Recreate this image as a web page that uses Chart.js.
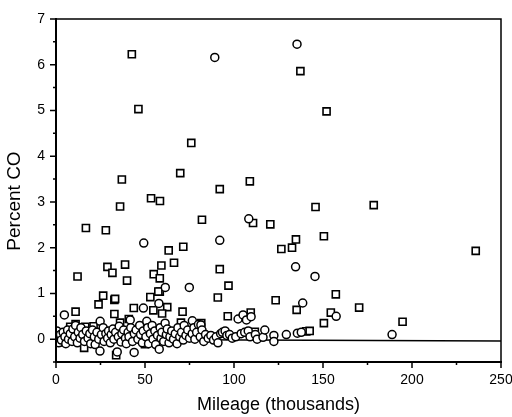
<!DOCTYPE html>
<html>
<head>
<meta charset="utf-8">
<script src="https://cdn.jsdelivr.net/npm/chart.js@4"></script>
<style>
html,body{margin:0;padding:0;background:#fff;}
#wrap{width:512px;height:417px;}
</style>
</head>
<body>
<div id="wrap"><canvas id="c" width="512" height="417"></canvas></div>
<script>
const xTicks = [0, 50, 100, 150, 200, 250];
const xMinorTicks = [25, 75, 125, 175, 225];
const yTicks = [0, 1, 2, 3, 4, 5, 6, 7];
const yMinorTicks = [-0.5, 0.5, 1.5, 2.5, 3.5, 4.5, 5.5, 6.5];
const xTitle = 'Mileage (thousands)';
const yTitle = 'Percent CO';

// Square markers (mileage, % CO)
const squareSeries = [
  [42.6,6.23],[46.3,5.03],[76.0,4.29],[37.0,3.49],[69.8,3.63],[92.0,3.28],[108.9,3.45],
  [53.4,3.08],[58.4,3.02],[137.3,5.86],[152.0,4.98],[36.0,2.90],[82.0,2.61],[16.8,2.43],
  [28.0,2.38],[63.3,1.94],[71.5,2.02],[28.9,1.58],[31.7,1.45],[38.8,1.63],[59.2,1.61],
  [66.3,1.67],[12.1,1.37],[39.9,1.28],[54.9,1.42],[58.3,1.33],[58.3,1.04],[145.8,2.89],
  [110.7,2.54],[120.4,2.51],[126.6,1.97],[132.6,2.00],[134.8,2.18],[150.5,2.25],[92.0,1.53],
  [96.9,1.17],[157.2,0.98],[235.8,1.93],[178.5,2.93],[123.4,0.85],[135.2,0.64],[154.4,0.58],
  [170.3,0.69],[150.5,0.35],[194.7,0.38],[90.9,0.91],
  [26.5,0.95],[23.9,0.76],[32.8,0.86],[32.8,0.55],[53.0,0.92],[54.7,0.63],[62.5,0.70],
  [59.6,0.56],[71.1,0.60],[70.2,0.36],[96.5,0.50],[43.7,0.68],[11.0,0.60],[40.9,0.44],
  [81.6,0.35],[36.0,0.36],[8.0,0.27],[11.0,0.33],[16.4,0.27],[21.1,0.28],[33.8,-0.35],
  [15.8,-0.19],[109.4,0.58],[108.9,0.15],[111.7,0.16],[140.6,0.17],[142.5,0.18],
  [14.6,0.00],[4.3,-0.07],[51.9,-0.04],[50.0,-0.11],[33.2,0.88],[57.5,1.04]
];

// Circle markers (mileage, % CO)
const circleSeries = [
  [0.5,0.18],[1,0.02],[1.5,-0.08],[2.5,0.10],[3,-0.02],[4,0.15],[5,0.05],[5.5,-0.10],
  [6.5,0.20],[7,0.00],[8,0.12],[9,-0.05],[9.5,0.22],[4.7,0.53],
  [10.5,0.05],[11,0.30],[12,-0.08],[12.5,0.15],[13.5,0.02],[14,0.25],[15,0.10],[16,-0.05],
  [17,0.18],[18,0.02],[19,0.12],[19.5,-0.10],
  [20.5,0.20],[21.5,0.05],[22,-0.12],[23,0.15],[24,0.00],[24.8,0.39],[24.7,-0.26],[25.5,0.10],
  [26.5,0.25],[27,-0.05],[28,0.12],[29,0.02],[29.5,0.18],
  [30.5,-0.08],[31,0.10],[32,0.22],[32.5,0.00],[33.5,0.15],[34.4,-0.28],[35,0.05],[35.5,0.28],
  [36.5,-0.06],[37,0.12],[38,0.20],[39,0.02],[39.5,-0.10],[41.7,0.42],
  [40.5,0.15],[41,0.05],[42,0.25],[43,-0.05],[43.9,-0.29],[44,0.12],[45,0.20],[46,0.00],
  [47,0.30],[47.5,0.10],[48.5,-0.08],[49,0.18],[49.1,0.68],[49.3,2.10],
  [50.5,0.05],[51,0.39],[51.5,0.25],[52,-0.10],[53,0.12],[54,0.30],[54.5,0.00],[55.5,0.18],
  [56,-0.12],[57,0.08],[57.8,0.78],[58,-0.22],[58.5,0.25],[59,0.02],[59.5,0.15],
  [60.5,-0.05],[61.3,0.35],[61.4,1.13],[62,0.10],[62.5,0.22],[63.5,-0.08],[64,0.05],[65,0.18],
  [66,0.00],[67,0.12],[68,-0.10],[68.5,0.25],[69.5,0.05],
  [70.5,0.15],[71.5,-0.02],[72,0.30],[73,0.08],[74,0.20],[74.9,1.13],[75,0.02],[76.6,0.40],
  [76.5,0.12],[77.5,0.25],[78,0.00],[79,0.15],[80,0.32],
  [81,0.05],[81.4,0.31],[82,0.20],[83,-0.05],[84,0.10],[85.5,0.02],[87,0.08],[88.5,-0.02],
  [89.2,6.16],[90,0.05],
  [91,-0.08],[92,2.16],[92.5,0.12],[93.5,0.15],[95,0.18],[96,0.08],[97.5,0.10],[99,0.02],
  [101,0.05],[102.3,0.44],[105.1,0.53],[107,0.42],[108.3,2.63],[109.6,0.49],[104,0.12],
  [106,0.15],[108,0.18],[109,0.05],[112,0.10],[113,0.00],[116.3,0.04],[117.3,0.20],
  [122.4,0.08],[122.4,-0.05],[129.4,0.10],[134.6,1.58],[135.4,6.45],[135.6,0.13],
  [137.8,0.15],[138.6,0.79],[145.5,1.37],[157.4,0.50],[188.8,0.10]
];

// Near-zero reference line
const refLine = [[0, 0.0], [250, -0.04]];

const toPts = a => a.map(p => ({x: p[0], y: p[1]}));

const FONT = '"Liberation Sans", Arial, sans-serif';

const frame = {
  id: 'frame',
  afterDraw(chart) {
    const ctx = chart.ctx;
    const xs = chart.scales.x, ys = chart.scales.y;
    const L = xs.getPixelForValue(0), R = xs.getPixelForValue(250);
    const T = ys.getPixelForValue(7), B = ys.getPixelForValue(-0.5);
    ctx.save();
    ctx.strokeStyle = '#000';
    ctx.lineCap = 'square';
    ctx.lineWidth = 1.5;
    ctx.beginPath();
    ctx.moveTo(L, T); ctx.lineTo(R, T); ctx.lineTo(R, B);
    ctx.stroke();
    ctx.lineWidth = 2;
    ctx.beginPath();
    ctx.moveTo(L, T); ctx.lineTo(L, B); ctx.lineTo(R, B);
    ctx.stroke();
    ctx.lineWidth = 1.5;
    ctx.lineCap = 'butt';
    ctx.beginPath();
    xTicks.forEach(v => { const p = xs.getPixelForValue(v); ctx.moveTo(p, B); ctx.lineTo(p, B + 6); });
    xMinorTicks.forEach(v => { const p = xs.getPixelForValue(v); ctx.moveTo(p, B); ctx.lineTo(p, B + 3); });
    yTicks.forEach(v => { const p = ys.getPixelForValue(v); ctx.moveTo(L, p); ctx.lineTo(L - 6, p); });
    yMinorTicks.forEach(v => { const p = ys.getPixelForValue(v); ctx.moveTo(L, p); ctx.lineTo(L - 3, p); });
    ctx.stroke();
    ctx.fillStyle = '#000';
    ctx.font = '19px ' + FONT;
    ctx.textAlign = 'center';
    ctx.textBaseline = 'middle';
    ctx.translate(15, 201);
    ctx.rotate(-Math.PI / 2);
    ctx.fillText(yTitle, 0, 0);
    ctx.restore();
  }
};

const tickFont = {family: FONT, size: 14};
const titleFont = {family: FONT, size: 18};

new Chart(document.getElementById('c'), {
  type: 'scatter',
  data: {
    datasets: [
      {
        label: 'circles',
        data: toPts(circleSeries),
        pointStyle: 'circle',
        pointRadius: 4,
        pointBorderWidth: 1.5,
        pointBorderColor: '#000',
        pointBackgroundColor: '#fff'
      },
      {
        label: 'squares',
        data: toPts(squareSeries),
        pointStyle: 'rect',
        pointRadius: 5,
        pointBorderWidth: 1.6,
        pointBorderColor: '#000',
        pointBackgroundColor: '#fff'
      },
      {
        label: 'line',
        type: 'line',
        data: toPts(refLine),
        borderColor: '#000',
        borderWidth: 1.5,
        pointRadius: 0,
        fill: false
      }
    ]
  },
  options: {
    responsive: false,
    animation: false,
    events: [],
    layout: {padding: {top: 19, right: 11, left: 0, bottom: 0}},
    plugins: {legend: {display: false}, tooltip: {enabled: false}},
    scales: {
      x: {
        type: 'linear', min: 0, max: 250,
        afterBuildTicks: s => { s.ticks = xTicks.map(v => ({value: v})); },
        afterFit: s => { s.height = 55; s.paddingLeft = 0; s.paddingRight = 0; },
        grid: {display: false, drawTicks: true, tickLength: 6},
        border: {display: false},
        ticks: {color: '#000', font: tickFont, padding: 4, maxRotation: 0},
        title: {display: true, text: xTitle, color: '#000', font: titleFont, padding: {top: 0, bottom: 1}}
      },
      y: {
        type: 'linear', min: -0.5, max: 7,
        afterBuildTicks: s => { s.ticks = yTicks.map(v => ({value: v})); },
        afterFit: s => { s.width = 56; s.paddingTop = 0; s.paddingBottom = 0; },
        grid: {display: false, drawTicks: true, tickLength: 6},
        border: {display: false},
        ticks: {color: '#000', font: tickFont, padding: 5},
        title: {display: false, text: yTitle}
      }
    }
  },
  plugins: [frame]
});
</script>
</body>
</html>
